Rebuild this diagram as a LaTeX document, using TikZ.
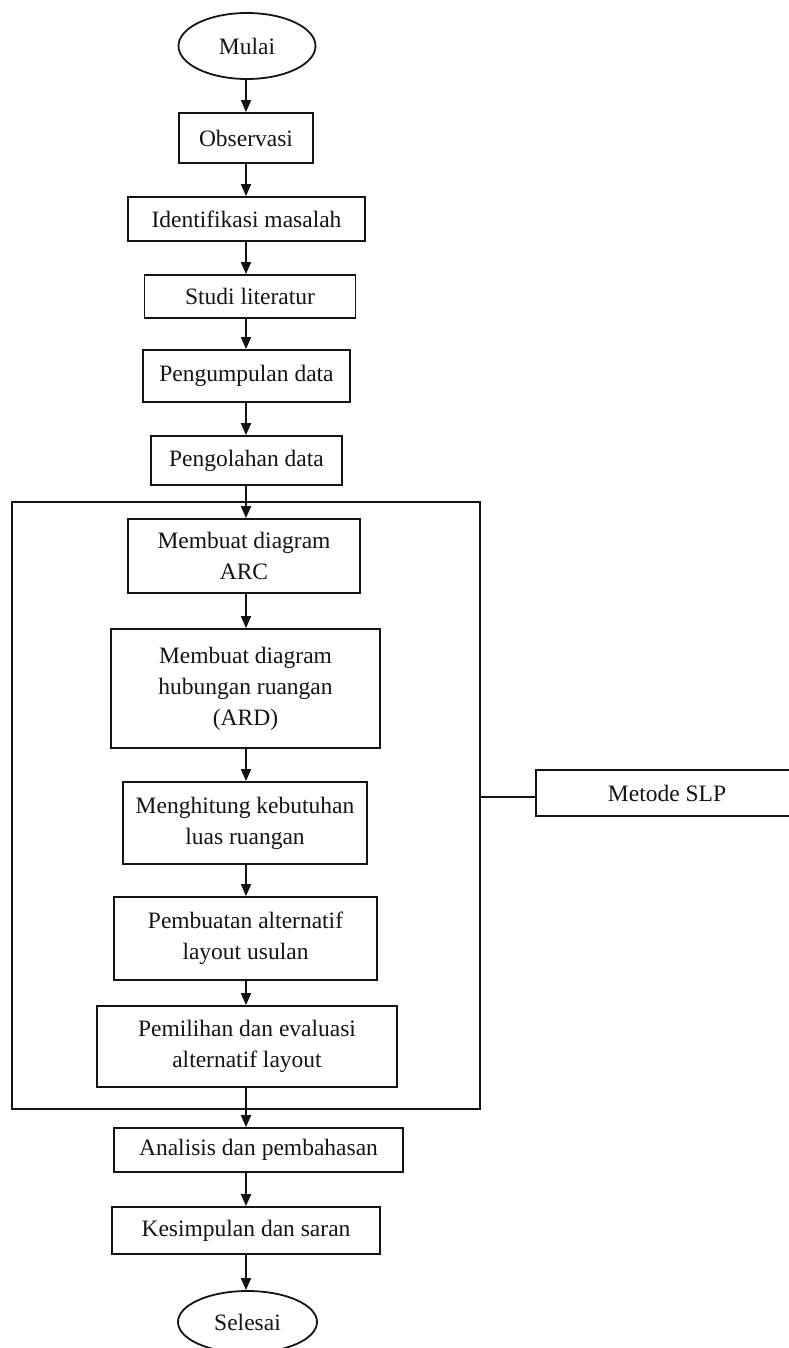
\documentclass[tikz,border=0pt]{standalone}
\usepackage{fontspec}
\setmainfont{Liberation Serif}
\usepackage{tikz}
\usetikzlibrary{arrows.meta,positioning,shapes.geometric}
\definecolor{ink}{RGB}{20,20,20}

\begin{document}
\begin{tikzpicture}[x=1pt,y=-1pt,
    proc/.style={draw=ink,line width=1.8pt,inner sep=0pt,align=center,
      font=\fontsize{23.5}{31}\selectfont,text=ink},
    term/.style={proc,ellipse},
    flow/.style={draw=ink,line width=1.8pt,-{Triangle[length=12pt,width=10pt]}}]
  \useasboundingbox (0,0) rectangle (788,1348);
  \coordinate (axis) at (246,0);
  % start and the steps before the SLP block
  \node[term,minimum width=137pt,minimum height=66pt] (mulai) at (247,46) {Mulai};
  \node[proc,minimum width=134pt,minimum height=50pt] (obs) at (246,138) {Observasi};
  \node[proc,minimum width=237pt,minimum height=44pt] (idm) at (246.5,219) {Identifikasi masalah};
  \node[proc,minimum width=211pt,minimum height=43pt] (stud) at (250,296.5) {Studi literatur};
  \node[proc,minimum width=207pt,minimum height=52pt] (kump) at (246.5,376) {Pengumpulan data};
  \node[proc,minimum width=191pt,minimum height=49pt] (olah) at (246.5,460.5) {Pengolahan data};
  % SLP block
  \draw[draw=ink,line width=1.8pt] (12,502) rectangle (480,1109);
  \coordinate (slpin) at (480,797);
  \node[proc,minimum width=232pt,minimum height=74pt] (arc) at (244,556) {Membuat diagram\\ARC};
  \node[proc,minimum width=269pt,minimum height=119pt] (ard) at (245.5,688.5)
    {Membuat diagram\\hubungan ruangan\\(ARD)};
  \node[proc,minimum width=244pt,minimum height=82pt] (hit) at (245,823)
    {Menghitung kebutuhan\\luas ruangan};
  \node[proc,minimum width=263pt,minimum height=83pt] (buat) at (245.5,938.5)
    {Pembuatan alternatif\\layout usulan};
  \node[proc,minimum width=300pt,minimum height=81pt] (pilih) at (247,1046.5)
    {Pemilihan dan evaluasi\\alternatif layout};
  \node[proc,minimum width=262pt,minimum height=46pt] (slp) at (667,793) {Metode SLP};
  % after the block
  \node[proc,minimum width=289pt,minimum height=44pt] (anal) at (258.5,1150) {Analisis dan pembahasan};
  \node[proc,minimum width=268pt,minimum height=47pt] (simp) at (246,1230.5) {Kesimpulan dan saran};
  \node[term,minimum width=139pt,minimum height=62pt] (sel) at (247.5,1322) {Selesai};

  \foreach \a/\b in {mulai/obs,obs/idm,idm/stud,stud/kump,kump/olah,olah/arc,
    arc/ard,ard/hit,hit/buat,buat/pilih,pilih/anal,anal/simp,simp/sel}
    \draw[flow] (axis |- \a.south) -- (axis |- \b.north);
  \draw[draw=ink,line width=1.8pt] (slpin) -- (slp.west |- slpin);
\end{tikzpicture}
\end{document}
